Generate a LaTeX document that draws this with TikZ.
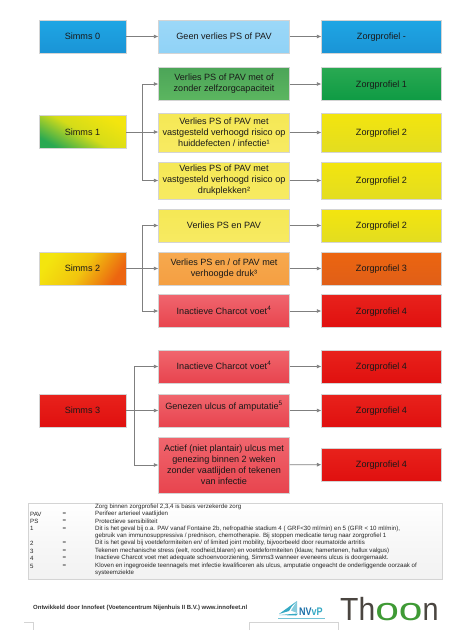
\documentclass[tikz,border=0pt]{standalone}
\usepackage{fontspec}
\setmainfont{Liberation Sans}
\usetikzlibrary{arrows.meta}

\definecolor{conncol}{HTML}{7F7F7F}
\definecolor{edgecol}{HTML}{D4D4D4}
\definecolor{thoondark}{HTML}{4A4540}
\definecolor{thoongreen}{HTML}{3F9A35}
\definecolor{nvvpblue}{HTML}{1C6FA8}
\definecolor{nvvpteal}{HTML}{35A9C4}
\definecolor{col0a}{HTML}{1FA6E4}\definecolor{col0b}{HTML}{1A94D6}
\definecolor{col0c}{HTML}{9CD8F8}\definecolor{col0d}{HTML}{90D2F6}
\definecolor{col1a}{HTML}{4CA558}\definecolor{col1b}{HTML}{5CB660}
\definecolor{col1c}{HTML}{2AA952}\definecolor{col1d}{HTML}{0E9B44}
\definecolor{col2a}{HTML}{F5E855}\definecolor{col2b}{HTML}{F7EA62}
\definecolor{col2c}{HTML}{F3E50E}\definecolor{col2d}{HTML}{E3DD20}
\definecolor{col3a}{HTML}{F7A94E}\definecolor{col3b}{HTML}{F49F42}
\definecolor{col3c}{HTML}{EC6510}\definecolor{col3d}{HTML}{E05F18}
\definecolor{col4a}{HTML}{F0666E}\definecolor{col4b}{HTML}{E8444E}
\definecolor{col4c}{HTML}{E8221C}\definecolor{col4d}{HTML}{E0100F}

\tikzset{
  box/.style={draw=edgecol, line width=.7pt, align=center, inner sep=1pt, font=\fontsize{9.1}{11}\selectfont, text=black!90},
  oneline/.style={text height=6.4pt, text depth=0pt},
  simmsbox/.style={box, oneline, minimum width=87pt, minimum height=33pt},
  midbox/.style={box, minimum width=130.5pt, minimum height=33pt},
  profbox/.style={box, oneline, minimum width=119.5pt, minimum height=33pt},
  conn/.style={draw=conncol, line width=.7pt, -{Latex[length=4.5pt,width=4pt]}},
  legend/.style={anchor=west, inner sep=0pt, font=\fontsize{6.13}{7}\selectfont, text=black!85},
  blue0/.style={top color=col0a, bottom color=col0b},
  bluemid/.style={top color=col0c, bottom color=col0d},
  greenmid/.style={top color=col1a, bottom color=col1b},
  greenprof/.style={top color=col1c, bottom color=col1d},
  yellowmid/.style={top color=col2a, bottom color=col2b},
  yellowprof/.style={top color=col2c, bottom color=col2d},
  orangemid/.style={top color=col3a, bottom color=col3b},
  orangeprof/.style={top color=col3c, bottom color=col3d},
  redmid/.style={top color=col4a, bottom color=col4b},
  redprof/.style={top color=col4c, bottom color=col4d}
}

\begin{document}
\begin{tikzpicture} [x=1pt, y=-1pt]
\useasboundingbox (0,0) rectangle (462,638);

\coordinate (S0) at (82.5,36.5);
\coordinate (S1) at (82.5,132);
\coordinate (S2) at (82.5,268.5);
\coordinate (S3) at (82.5,410.5);

\coordinate (M0) at (224,36.5);
\coordinate (M1) at (224,84);
\coordinate (M2) at (224,132.5);
\coordinate (M3) at (224,180.5);
\coordinate (M4) at (224,225.5);
\coordinate (M5) at (224,268.5);
\coordinate (M6) at (224,311);
\coordinate (M7) at (224,366.5);
\coordinate (M8) at (224,410.5);
\coordinate (M9) at (224,465);

\coordinate (P0) at (381.5,36.5);
\coordinate (P1) at (381.5,84);
\coordinate (P2) at (381.5,132.5);
\coordinate (P3) at (381.5,180.5);
\coordinate (P4) at (381.5,225.5);
\coordinate (P5) at (381.5,268.5);
\coordinate (P6) at (381.5,311);
\coordinate (P7) at (381.5,366.5);
\coordinate (P8) at (381.5,410.5);
\coordinate (P9) at (381.5,464.5);

% left column
\node [simmsbox, blue0] (simms0) at (S0) {Simms 0};
\node [simmsbox, top color=col2c, bottom color=col1c, middle color=col2c!85!col1c, shading angle=-30] (simms1) at (S1) {Simms 1};
\node [simmsbox, top color=col2c, bottom color=col3c, middle color=col2c!75!col3c, shading angle=55] (simms2) at (S2) {Simms 2};
\node [simmsbox, redprof] (simms3) at (S3) {Simms 3};

% middle column
\node [midbox, oneline, bluemid] (mid0) at (M0) {Geen verlies PS of PAV};
\node [midbox, greenmid] (mid1) at (M1) {Verlies PS of PAV met of\\zonder zelfzorgcapaciteit};
\node [midbox, yellowmid, minimum height=39pt] (mid2) at (M2) {Verlies PS of PAV met\\vastgesteld verhoogd risico op\\huiddefecten / infectie¹};
\node [midbox, yellowmid, minimum height=37pt] (mid3) at (M3) {Verlies PS of PAV met\\vastgesteld verhoogd risico op\\drukplekken²};
\node [midbox, oneline, yellowmid] (mid4) at (M4) {Verlies PS en PAV};
\node [midbox, orangemid] (mid5) at (M5) {Verlies PS en / of PAV met\\verhoogde druk³};
\node [midbox, oneline, redmid] (mid6) at (M6) {Inactieve Charcot voet\textsuperscript{4}};
\node [midbox, oneline, redmid] (mid7) at (M7) {Inactieve Charcot voet\textsuperscript{4}};
\node [midbox, redmid] (mid8) at (M8) {Genezen ulcus of amputatie\textsuperscript{5}\\\mbox{}};
\node [midbox, redmid, minimum height=56pt] (mid9) at (M9) {Actief (niet plantair) ulcus met\\genezing binnen 2 weken\\zonder vaatlijden of tekenen\\van infectie};

% right column
\node [profbox, blue0] (prof0) at (P0) {Zorgprofiel -};
\node [profbox, greenprof] (prof1) at (P1) {Zorgprofiel 1};
\node [profbox, yellowprof, minimum height=39pt] (prof2) at (P2) {Zorgprofiel 2};
\node [profbox, yellowprof, minimum height=37pt] (prof3) at (P3) {Zorgprofiel 2};
\node [profbox, yellowprof] (prof4) at (P4) {Zorgprofiel 2};
\node [profbox, orangeprof] (prof5) at (P5) {Zorgprofiel 3};
\node [profbox, redprof] (prof6) at (P6) {Zorgprofiel 4};
\node [profbox, redprof] (prof7) at (P7) {Zorgprofiel 4};
\node [profbox, redprof] (prof8) at (P8) {Zorgprofiel 4};
\node [profbox, redprof] (prof9) at (P9) {Zorgprofiel 4};

% connectors
\draw [conn] (simms0) -- (mid0);
\draw [conn] (simms1.east) -- ++(16,0) |- (mid1.west);
\draw [conn] (simms1.east) -- (mid2.west |- simms1.east);
\draw [conn] (simms1.east) -- ++(16,0) |- (mid3.west);
\draw [conn] (simms2.east) -- ++(16,0) |- (mid4.west);
\draw [conn] (simms2) -- (mid5);
\draw [conn] (simms2.east) -- ++(16,0) |- (mid6.west);
\draw [conn] (simms3.east) -- ++(8,0) |- (mid7.west);
\draw [conn] (simms3) -- (mid8);
\draw [conn] (simms3.east) -- ++(8,0) |- (mid9.west);

\draw [conn] (mid0) -- (prof0);
\draw [conn] (mid1) -- (prof1);
\draw [conn] (mid2) -- (prof2);
\draw [conn] (mid3) -- (prof3);
\draw [conn] (mid4) -- (prof4);
\draw [conn] (mid5) -- (prof5);
\draw [conn] (mid6) -- (prof6);
\draw [conn] (mid7) -- (prof7);
\draw [conn] (mid8) -- (prof8);
\draw [conn] (mid9) -- (prof9);

% legend
\draw [draw=edgecol, top color=white, bottom color=black!5, middle color=black!3] (28,503) rectangle (442,579);
\node [legend] (t0) at (95,507) {Zorg binnen zorgprofiel 2,3,4 is basis verzekerde zorg};
\node [legend] (a1) at (30,514) {PAV};
\node [legend] (e1) at (62.5,514) {=};
\node [legend] (t1) at (95,514) {Perifeer arterieel vaatlijden};
\node [legend] (a2) at (30,521) {PS};
\node [legend] (e2) at (62.5,521) {=};
\node [legend] (t2) at (95,521) {Protectieve sensibiliteit};
\node [legend] (a3) at (30,528.5) {1};
\node [legend] (e3) at (62.5,528.5) {=};
\node [legend] (t3) at (95,528.5) {Dit is het geval bij o.a. PAV vanaf Fontaine 2b, nefropathie stadium 4 ( GRF<30 ml/min) en 5 (GFR < 10 ml/min),};
\node [legend] (t4) at (95,536) {gebruik van immunosuppressiva / prednison, chemotherapie. Bij stoppen medicatie terug naar zorgprofiel 1};
\node [legend] (a5) at (30,543) {2};
\node [legend] (e5) at (62.5,543) {=};
\node [legend] (t5) at (95,543) {Dit is het geval bij voetdeformiteiten en/ of limited joint mobility, bijvoorbeeld door reumatoïde artritis};
\node [legend] (a6) at (30,551) {3};
\node [legend] (e6) at (62.5,551) {=};
\node [legend] (t6) at (95,551) {Tekenen mechanische stress (eelt, roodheid,blaren) en voetdeformiteiten (klauw, hamertenen, hallux valgus)};
\node [legend] (a7) at (30,558) {4};
\node [legend] (e7) at (62.5,558) {=};
\node [legend] (t7) at (95,558) {Inactieve Charcot voet met adequate schoenvoorziening, Simms3 wanneer eveneens ulcus is doorgemaakt.};
\node [legend] (a8) at (30,566) {5};
\node [legend] (e8) at (62.5,566) {=};
\node [legend] (t8) at (95,566) {Kloven en ingegroeide teennagels met infectie kwalificeren als ulcus, amputatie ongeacht de onderliggende oorzaak of};
\node [legend] (t9) at (95,573) {systeemziekte};

% footer
\node [anchor=west, inner sep=0pt, font=\fontsize{5.98}{7}\selectfont\bfseries, text=black!80] (made) at (33,607.5) {Ontwikkeld door Innofeet (Voetencentrum Nijenhuis II B.V.) www.innofeet.nl};
\draw [edgecol, line width=.4pt] (24,622.5) -- (33,622.5) -- (33,630);
\draw [edgecol, line width=.4pt] (249,630) -- (249,622.5) -- (338,622.5) -- (338,630);

% logos
\fill [nvvpteal] (297,601) -- (279,614) -- (289,611) -- (292,606) -- cycle;
\fill [nvvpteal!60] (297,601) -- (291,610.5) -- (297,613) -- cycle;
\fill [nvvpteal] (279,615) -- (298,613.5) -- (296,615.5) -- cycle;
\node [anchor=base west, inner sep=0pt, font=\fontsize{11}{11}\selectfont\bfseries, text=nvvpblue] (nvvp) at (299,615) {\scalebox{.82}[1]{NV\textcolor{nvvpteal}{vP}}};
\draw [nvvpteal!70, line width=1pt] (278,618.5) -- (325,618.5);
\node [anchor=base west, inner sep=0pt, font=\fontsize{32}{32}\selectfont, text=thoondark] (thoon) at (340,620) {\scalebox{.94}[1]{Th}\scalebox{1.33}[1]{\textcolor{thoongreen}{oo}}\scalebox{.9}[1]{n}};
\end{tikzpicture}
\end{document}
